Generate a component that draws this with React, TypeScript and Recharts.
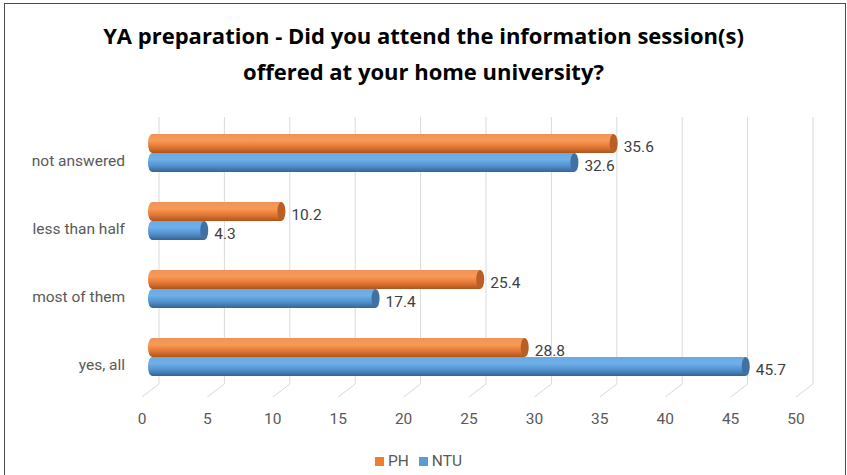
import React from "react";
import { BarChart, Bar, XAxis, YAxis, CartesianGrid, LabelList } from "recharts";

const categories = ["not answered", "less than half", "most of them", "yes, all"];
const phValues = [35.6, 10.2, 25.4, 28.8];
const ntuValues = [32.6, 4.3, 17.4, 45.7];
const xTicks = [0, 5, 10, 15, 20, 25, 30, 35, 40, 45, 50];

const seriesNames = ["PH", "NTU"];
const seriesColors = ["#ED7D31", "#5B9BD5"];

const data = categories.map((name, i) => ({
  name,
  PH: phValues[i],
  NTU: ntuValues[i],
}));

const FONT = "Roboto, 'Liberation Sans', sans-serif";
const TITLE_FONT = "'Open Sans', Roboto, sans-serif";

// cylinder-ish bar: gradient body, rounded left end, darker right cap
const Cylinder = (gradId: string, capColor: string) => (props: any) => {
  const { x, y, width, height } = props;
  if (!width || width <= 0) return null;
  const rx = 4;
  const ry = height / 2;
  const cy = y + ry;
  return (
    <g>
      <path
        d={`M${x + rx},${y} L${x + width},${y} L${x + width},${y + height} L${x + rx},${y + height} A${rx},${ry} 0 0 1 ${x + rx},${y} Z`}
        fill={`url(#${gradId})`}
      />
      <ellipse cx={x + width} cy={cy} rx={rx} ry={ry} fill={capColor} />
    </g>
  );
};

const gridLine = (props: any) => {
  const { x1, y1, y2 } = props;
  const bx = x1 + 11;
  const bottom = y2 - 7;
  return (
    <g key={props.key}>
      <line x1={bx} y1={y1 - 2} x2={bx} y2={bottom} stroke="#D9D9D9" strokeWidth={1} />
      <line x1={bx} y1={bottom} x2={bx - 17} y2={bottom + 13} stroke="#D9D9D9" strokeWidth={1} />
    </g>
  );
};

const XTick = (props: any) => {
  const { x, y, payload } = props;
  return (
    <text x={x - 6} y={y + 27} dy="0.355em" textAnchor="middle" fill="#595959" fontSize={15.5} fontFamily={FONT}>
      {payload.value}
    </text>
  );
};

const YTick = (props: any) => {
  const { x, y, payload } = props;
  return (
    <text x={x} y={y + 7} dy="0.355em" textAnchor="end" fill="#595959" fontSize={15.5} fontFamily={FONT}>
      {payload.value}
    </text>
  );
};

export default function App() {
  return (
    <div style={{ position: "absolute", left: 0, top: 0, width: 847, height: 475, background: "#fff", overflow: "hidden" }}>
      <div style={{ position: "absolute", left: 4, top: 3, width: 840, height: 480, border: "1px solid #4a4a4a" }} />
      <div
        style={{
          position: "absolute",
          top: 17,
          left: 0,
          width: 847,
          textAlign: "center",
          fontFamily: TITLE_FONT,
          fontWeight: "bold",
          fontSize: 22,
          lineHeight: "36px",
          color: "#000",
        }}
      >
        YA preparation - Did you attend the information session(s)
        <br />
        offered at your home university?
      </div>
      <BarChart
        width={847}
        height={475}
        data={data}
        layout="vertical"
        margin={{ top: 119, right: 45, bottom: 54, left: 0 }}
        barGap={0}
        barCategoryGap={15}
        style={{ position: "absolute", left: 0, top: 0 }}
      >
        <defs>
          <linearGradient id="gradPH" x1="0" y1="0" x2="0" y2="1">
            <stop offset="0%" stopColor="#F0935A" />
            <stop offset="35%" stopColor="#F89A55" />
            <stop offset="70%" stopColor="#E27431" />
            <stop offset="100%" stopColor="#A9561F" />
          </linearGradient>
          <linearGradient id="gradNTU" x1="0" y1="0" x2="0" y2="1">
            <stop offset="0%" stopColor="#6EA9DE" />
            <stop offset="35%" stopColor="#6DB0EA" />
            <stop offset="70%" stopColor="#4F8ECB" />
            <stop offset="100%" stopColor="#36648F" />
          </linearGradient>
        </defs>
        <CartesianGrid horizontal={false} vertical={gridLine} />
        <XAxis
          type="number"
          domain={[0, 50]}
          ticks={xTicks}
          height={30}
          axisLine={false}
          tickLine={false}
          tickSize={0}
          tickMargin={0}
          tick={<XTick />}
          interval={0}
        />
        <YAxis
          type="category"
          dataKey="name"
          width={148}
          axisLine={false}
          tickLine={false}
          tickSize={0}
          tickMargin={23}
          tick={<YTick />}
        />
        <Bar dataKey="PH" name="PH" fill={seriesColors[0]} shape={Cylinder("gradPH", "#B95E24")} isAnimationActive={false}>
          <LabelList dataKey="PH" position="right" offset={10} fill="#404040" fontSize={15.5} fontFamily={FONT} dy={3} />
        </Bar>
        <Bar dataKey="NTU" name="NTU" fill={seriesColors[1]} shape={Cylinder("gradNTU", "#3F72A3")} isAnimationActive={false}>
          <LabelList dataKey="NTU" position="right" offset={10} fill="#404040" fontSize={15.5} fontFamily={FONT} dy={3} />
        </Bar>
      </BarChart>
      <div
        style={{
          position: "absolute",
          top: 452,
          left: 0,
          width: 847,
          display: "flex",
          justifyContent: "center",
          alignItems: "center",
          fontFamily: FONT,
          fontSize: 15.5,
          color: "#595959",
        }}
      >
        {seriesNames.map((n, i) => (
          <span key={n} style={{ display: "inline-flex", alignItems: "center", marginRight: 10 }}>
            <span style={{ display: "inline-block", width: 9, height: 9, background: seriesColors[i], marginRight: 4 }} />
            {n}
          </span>
        ))}
      </div>
    </div>
  );
}
